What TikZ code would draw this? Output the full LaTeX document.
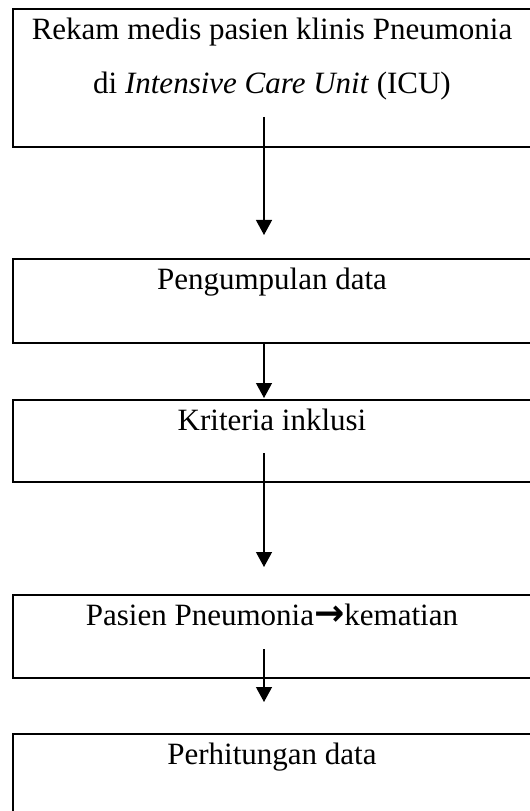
\documentclass[tikz,border=0pt]{standalone}
\usepackage{fontspec}
\setmainfont{Liberation Serif}
\newfontfamily\arrowfont{DejaVu Sans}
\usetikzlibrary{calc, arrows.meta}

\tikzset{
    box/.style={draw, line width=0.9pt, minimum width=207.2pt,
        inner sep=0pt, outer sep=0pt},
    boxtext/.style={anchor=north, align=center, inner sep=0pt, yshift=-3.2pt,
        font=\fontsize{12.4}{21.6}\selectfont},
    flow/.style={-{Triangle[width=6.4pt,length=6pt]}, line width=0.5pt}
}

\begin{document}
\begin{tikzpicture}[x=0.4pt, y=0.4pt]
    % page of 530 x 811 px, boxes run over the right and lower edge
    \useasboundingbox (0,0) rectangle (530,-811);
    \clip (0,0) rectangle (530,-811);

    \node[box, minimum height=55.2pt,
        label={[boxtext]north:Rekam medis pasien klinis Pneumonia\\di \textit{Intensive Care Unit} (ICU)}]
        (rekam) at (272,-78) {};
    \node[box, minimum height=33.6pt,
        label={[boxtext]north:Pengumpulan data}] (kumpul) at (272,-301) {};
    \node[box, minimum height=32.8pt,
        label={[boxtext]north:Kriteria inklusi}] (inklusi) at (272,-441) {};
    \node[box, minimum height=33.2pt,
        label={[boxtext]north:Pasien Pneumonia{\arrowfont\bfseries\fontsize{14.5}{14.5}\selectfont →}kematian}]
        (pasien) at (272,-636.5) {};
    \node[box, minimum height=33.6pt,
        label={[boxtext]north:Perhitungan data}] (hitung) at (272,-776) {};

    % start and end of the arrows
    \coordinate (s1) at ($(rekam.south)+(-8,30)$);
    \coordinate (e1) at ($(kumpul.north)+(-8,24)$);
    \coordinate (s2) at ($(kumpul.south)+(-8,0)$);
    \coordinate (e2) at ($(inklusi.north)+(-8,2)$);
    \coordinate (s3) at ($(inklusi.south)+(-8,29)$);
    \coordinate (e3) at ($(pasien.north)+(-8,28)$);
    \coordinate (s4) at ($(pasien.south)+(-8,29)$);
    \coordinate (e4) at ($(hitung.north)+(-8,32)$);

    \draw[flow] (s1) -- (e1);
    \draw[flow] (s2) -- (e2);
    \draw[flow] (s3) -- (e3);
    \draw[flow] (s4) -- (e4);
\end{tikzpicture}
\end{document}
